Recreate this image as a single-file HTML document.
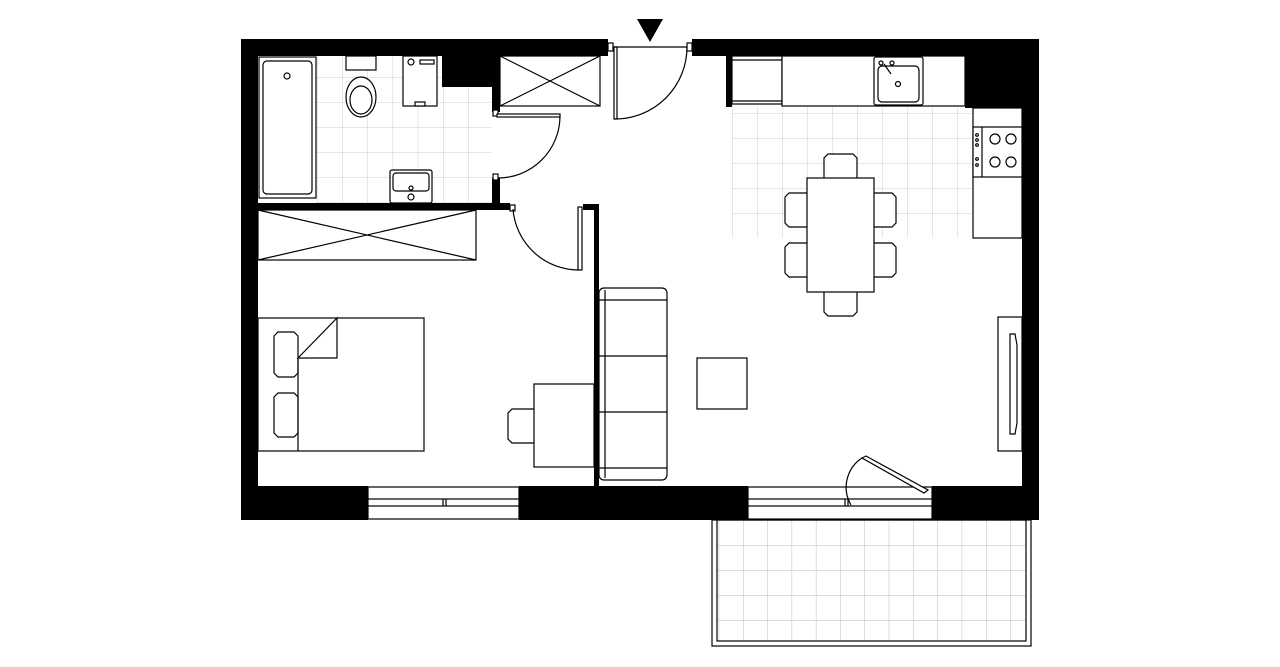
<!DOCTYPE html>
<html><head><meta charset="utf-8"><style>html,body{margin:0;padding:0;background:#fff}svg{display:block}</style></head>
<body>
<svg width="1280" height="667" viewBox="0 0 1280 667" xmlns="http://www.w3.org/2000/svg">
<defs>
<pattern id="t1" x="317" y="77" width="25.2" height="25" patternUnits="userSpaceOnUse"><path d="M0 0V25M0 0H25.2" stroke="#ccc" stroke-width="1" fill="none"/></pattern>
<pattern id="t2" x="757" y="113" width="25" height="25" patternUnits="userSpaceOnUse"><path d="M0 0V25M0 0H25" stroke="#ccc" stroke-width="1" fill="none"/></pattern>
<pattern id="t3" x="743" y="545" width="24.3" height="25" patternUnits="userSpaceOnUse"><path d="M0 0V25M0 0H24.3" stroke="#bbb" stroke-width="1" fill="none"/></pattern>
</defs>
<g fill="none" stroke="#000" stroke-width="1.2">
<!-- tiles -->
<rect x="316" y="56" width="176" height="147" fill="url(#t1)" stroke="none"/>
<rect x="732" y="106" width="241" height="132" fill="url(#t2)" stroke="none"/>
<!-- balcony -->
<rect x="712" y="520" width="319" height="126"/>
<rect x="717" y="520" width="309" height="121" fill="url(#t3)"/>
</g>
<!-- walls -->
<g fill="#000">
<rect x="241" y="39" width="367" height="17"/>
<rect x="692" y="39" width="347" height="17"/>
<rect x="241" y="39" width="17" height="481"/>
<rect x="1022" y="39" width="17" height="481"/>
<rect x="241" y="486" width="127" height="34"/>
<rect x="519" y="486" width="229" height="34"/>
<rect x="932" y="486" width="107" height="34"/>
<rect x="442" y="56" width="58" height="31"/>
<rect x="492" y="56" width="8" height="56"/>
<rect x="492" y="178" width="8" height="32"/>
<rect x="258" y="203" width="252" height="7"/>
<rect x="583" y="204" width="16" height="6"/>
<rect x="594" y="204" width="5" height="282"/>
<rect x="726" y="56" width="6" height="51"/>
<rect x="965" y="56" width="57" height="52"/>
<path d="M637 19H663L650 42Z"/>
</g>
<g fill="#fff" stroke="#000" stroke-width="1.2">
<!-- windows -->
<rect x="368" y="487" width="151" height="32"/>
<rect x="368" y="499" width="151" height="7"/>
<line x1="443" y1="499" x2="443" y2="506"/><line x1="446" y1="499" x2="446" y2="506"/>
<rect x="748" y="487" width="184" height="32"/>
<rect x="748" y="499" width="184" height="7"/>
<line x1="845" y1="499" x2="845" y2="506"/><line x1="848" y1="499" x2="848" y2="506"/>
<!-- entry door -->
<rect x="608" y="43" width="5" height="8"/><rect x="687" y="43" width="5" height="8"/>
<rect x="614" y="47" width="3" height="72"/>
<path d="M615 119A72 72 0 0 0 687 47" fill="none"/>
<line x1="614" y1="47" x2="687" y2="47"/>
<!-- bathroom door -->
<rect x="493" y="110" width="5" height="6"/><rect x="493" y="174" width="5" height="6"/>
<rect x="497" y="114" width="63" height="3"/>
<path d="M560 116A62 62 0 0 1 498 178" fill="none"/>
<!-- bedroom door -->
<rect x="510" y="205" width="5" height="6"/>
<rect x="578" y="207" width="4" height="63"/>
<path d="M513 209A66 66 0 0 0 579 270" fill="none"/>
<!-- bath -->
<rect x="259" y="57" width="57" height="141"/>
<rect x="263" y="61" width="49" height="133" rx="4"/>
<circle cx="287" cy="76" r="3"/>
<!-- toilet -->
<rect x="346" y="56" width="30" height="14"/>
<ellipse cx="361" cy="97" rx="15" ry="20"/><ellipse cx="361" cy="100" rx="11" ry="14"/>
<!-- washer -->
<rect x="403" y="56" width="34" height="50"/>
<circle cx="411" cy="62" r="3"/><rect x="420" y="60" width="14" height="4"/><rect x="415" y="102" width="10" height="4"/>
<!-- sink bath -->
<rect x="390" y="170" width="42" height="33" rx="2"/>
<rect x="393" y="173" width="36" height="18" rx="3"/>
<circle cx="411" cy="188" r="2"/><circle cx="411" cy="197" r="3"/>
<!-- closets -->
<rect x="500" y="56" width="100" height="50"/>
<path d="M500 56L600 106M600 56L500 106" fill="none"/>
<rect x="258" y="210" width="218" height="50"/>
<path d="M258 210L476 260M476 210L258 260" fill="none"/>
<!-- kitchen -->
<rect x="732" y="56" width="50" height="48"/>
<line x1="732" y1="60" x2="782" y2="60"/><line x1="732" y1="101" x2="782" y2="101"/>
<rect x="782" y="56" width="183" height="50"/>
<rect x="874" y="57" width="49" height="48" rx="2"/>
<rect x="878" y="66" width="41" height="36" rx="4"/>
<circle cx="898" cy="84" r="2.5"/><circle cx="881" cy="63" r="2"/><circle cx="892" cy="63" r="2"/>
<line x1="884" y1="64" x2="891" y2="74"/>
<rect x="973" y="108" width="49" height="130"/>
<rect x="973" y="127" width="49" height="50"/>
<line x1="982" y1="127" x2="982" y2="177"/>
<circle cx="995" cy="139" r="5"/><circle cx="1011" cy="139" r="5"/>
<circle cx="995" cy="162" r="5"/><circle cx="1011" cy="162" r="5"/>
<circle cx="977" cy="135" r="1.3"/><circle cx="977" cy="140" r="1.3"/><circle cx="977" cy="145" r="1.3"/><circle cx="977" cy="159" r="1.3"/><circle cx="977" cy="165" r="1.3"/>
<!-- dining -->
<path d="M824 178V158L828 154H853L857 158V178"/>
<path d="M807 193H789L785 197V223L789 227H807"/>
<path d="M807 243H789L785 247V273L789 277H807"/>
<path d="M874 193H892L896 197V223L892 227H874"/>
<path d="M874 243H892L896 247V273L892 277H874"/>
<path d="M824 292V312L828 316H853L857 312V292"/>
<rect x="807" y="178" width="67" height="114"/>
<!-- sofa -->
<rect x="599" y="288" width="68" height="192" rx="5"/>
<line x1="605" y1="290" x2="605" y2="478"/>
<line x1="599" y1="300" x2="667" y2="300"/><line x1="599" y1="356" x2="667" y2="356"/>
<line x1="599" y1="412" x2="667" y2="412"/><line x1="599" y1="468" x2="667" y2="468"/>
<rect x="697" y="358" width="50" height="51"/>
<!-- tv -->
<rect x="998" y="317" width="24" height="134"/>
<path d="M1010 334H1015L1017 345V423L1015 434H1010Z"/>
<!-- bedroom -->
<rect x="258" y="318" width="166" height="133"/>
<path d="M274 336L278 332H294L298 336V373L294 377H278L274 373Z"/>
<path d="M274 397L278 393H294L298 397V433L294 437H278L274 433Z"/>
<line x1="298" y1="358" x2="298" y2="451"/>
<path d="M298 358L337 318V358Z"/>
<path d="M534 409H512L508 413V439L512 443H534"/>
<rect x="534" y="384" width="60" height="83"/>
<!-- balcony door leaf -->
<path d="M862 458L866 456L928 490L924 493Z"/>
<path d="M862 458A35 35 0 0 0 851 505" fill="none"/>
</g>
</svg>
</body></html>
